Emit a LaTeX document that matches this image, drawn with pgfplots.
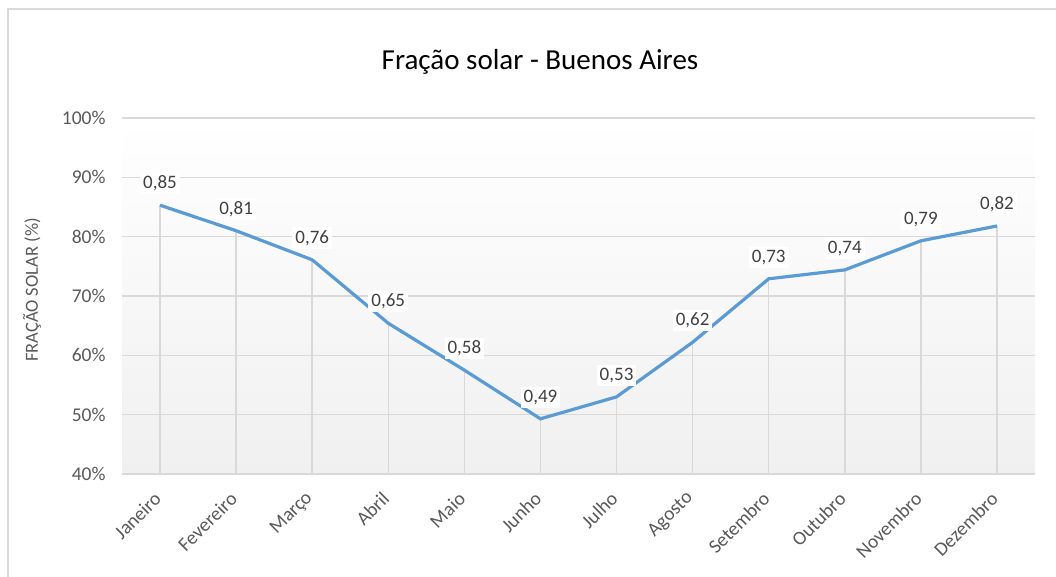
\documentclass[border=0pt]{standalone}
\usepackage{pgfplots}
\pgfplotsset{compat=1.18}
\usepackage{fontspec}
\setmainfont{Carlito}
\definecolor{gridc}{HTML}{D9D9D9}
\definecolor{txt}{HTML}{595959}
\definecolor{lbl}{HTML}{404040}
\definecolor{linec}{HTML}{5B9BD5}
\definecolor{bgbot}{HTML}{F0F0F0}
\pgfplotstableread{
x y lab
0 0.853 0,85
1 0.810 0,81
2 0.761 0,76
3 0.654 0,65
4 0.575 0,58
5 0.493 0,49
6 0.530 0,53
7 0.622 0,62
8 0.729 0,73
9 0.744 0,74
10 0.793 0,79
11 0.818 0,82
}\datatab
\begin{document}
\begin{tikzpicture}[x=1pt,y=1pt]
\draw[gridc, line width=2pt] (7.5,-5) -- (7.5,567.5) -- (1060,567.5);
\node[font=\fontsize{29}{34}\selectfont, text=black] at (540,515) {Fração solar - Buenos Aires};
\node[rotate=90, font=\fontsize{18.5}{22}\selectfont, text=txt] at (32,287) {FRAÇÃO SOLAR (\%)};
\begin{axis}[
  at={(122pt,103pt)}, anchor=south west,
  scale only axis, width=913pt, height=356pt,
  xmin=-0.5, xmax=11.5, ymin=0.4, ymax=1.0,
  xtick={0,...,11},
  xticklabels={Janeiro,Fevereiro,Março,Abril,Maio,Junho,Julho,Agosto,Setembro,Outubro,Novembro,Dezembro},
  ytick={0.4,0.5,0.6,0.7,0.8,0.9,1.0},
  yticklabels={40\%,50\%,60\%,70\%,80\%,90\%,100\%},
  axis line style={draw=none},
  major tick style={draw=none},
  ymajorgrids,
  grid style={gridc, line width=1.5pt},
  axis background/.style={shade, top color=white, bottom color=bgbot},
  yticklabel style={font=\fontsize{19.5}{22}\selectfont, text=txt, xshift=-13pt},
  xticklabel style={font=\fontsize{19.5}{22}\selectfont, text=txt, rotate=45, anchor=east},
  xticklabel shift=19pt,
]
\addplot[ycomb, draw=gridc, line width=1.5pt] table[x=x, y=y] {\datatab};
\addplot[linec, line width=3.2pt, mark=none] table[x=x, y=y] {\datatab};
\addplot[draw=none, mark=none,
  nodes near coords, point meta=explicit symbolic,
  every node near coord/.append style={font=\fontsize{19}{22}\selectfont, text=lbl, fill=white, inner sep=3pt, anchor=south, yshift=11pt}]
  table[x=x, y=y, meta=lab] {\datatab};
\end{axis}
\pgfresetboundingbox
\useasboundingbox (0,0) rectangle (1056,577);
\end{tikzpicture}
\end{document}
